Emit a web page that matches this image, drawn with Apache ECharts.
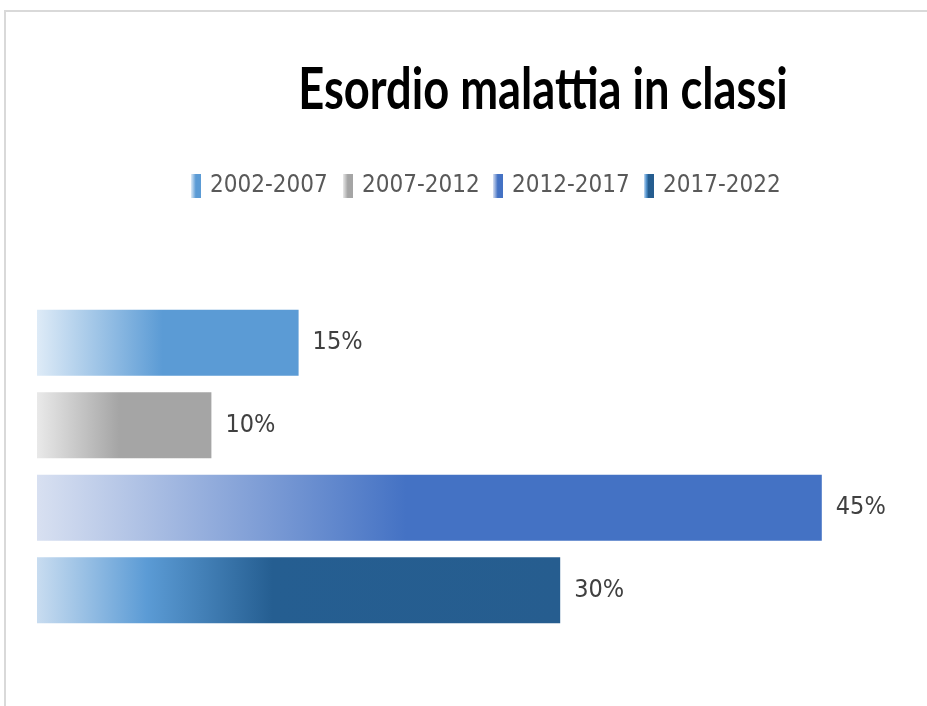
<!DOCTYPE html>
<html>
<head>
<meta charset="utf-8">
<title>Esordio malattia in classi</title>
<script src="https://cdn.jsdelivr.net/npm/echarts@6/dist/echarts.min.js"></script>
<style>
  html, body { margin: 0; padding: 0; background: #ffffff; }
  #chart { width: 927px; height: 706px; }
</style>
</head>
<body>
<div id="chart"></div>
<script>
// Onset of the disease, grouped by period
const categories = ['Esordio malattia'];
const periods = ['2002-2007', '2007-2012', '2012-2017', '2017-2022'];
const shares = [15, 10, 45, 30];
const axisMax = 50;

// Fill of each period: light tint on the left fading into the full colour
const fills = [
  [[0, '#deebf7'], [0.48, '#5b9bd5'], [1, '#5b9bd5']],
  [[0, '#e9e9e9'], [0.47, '#a5a5a5'], [1, '#a5a5a5']],
  [[0, '#d8e0f1'], [0.47, '#4472c4'], [1, '#4472c4']],
  [[0, '#c8dcf0'], [0.21, '#5b9bd5'], [0.45, '#255e91'], [1, '#265d8f']]
];
const legendLeft = [191, 343, 493, 644];

const TEXT_FONT = '"DejaVu Sans Condensed", "Liberation Sans", sans-serif';
const TITLE_FONT = 'Lato, "Liberation Sans", sans-serif';

function gradient(stops) {
  return new echarts.graphic.LinearGradient(0, 0, 1, 0,
    stops.map(s => ({ offset: s[0], color: s[1] })));
}

const chart = echarts.init(document.getElementById('chart'), null, { renderer: 'canvas' });

chart.setOption({
  backgroundColor: '#ffffff',
  animation: false,
  graphic: [
    {
      type: 'rect',
      shape: { x: 5, y: 11, width: 1200, height: 1000 },
      style: { fill: 'none', stroke: '#d9d9d9', lineWidth: 2 },
      silent: true
    },
    {
      // condensed heading, centred over the plot
      type: 'text',
      x: 543,
      y: 90,
      scaleX: 0.78,
      style: {
        text: 'Esordio malattia in classi',
        font: 'bold 58px ' + TITLE_FONT,
        fill: '#000000',
        textAlign: 'center',
        textVerticalAlign: 'middle'
      },
      silent: true
    }
  ],
  legend: periods.map((p, i) => ({
    data: [p],
    left: legendLeft[i],
    top: 174,
    padding: 0,
    itemWidth: 10,
    itemHeight: 24,
    icon: 'rect',
    selectedMode: false,
    textStyle: { color: '#595959', fontSize: 24, fontFamily: TEXT_FONT, padding: [0, 0, 0, 4] }
  })),
  grid: { left: 37, width: 872, top: 270, height: 393, containLabel: false },
  xAxis: {
    type: 'value',
    min: 0,
    max: axisMax,
    show: false
  },
  yAxis: {
    type: 'category',
    data: categories,
    show: false
  },
  series: periods.map((p, i) => ({
    name: p,
    type: 'bar',
    data: [shares[i]],
    barWidth: 66,
    barGap: '25%',
    itemStyle: { color: gradient(fills[i]) },
    label: {
      show: true,
      position: 'right',
      distance: 14,
      formatter: '{c}%',
      color: '#404040',
      fontSize: 25,
      fontFamily: TEXT_FONT
    }
  }))
});
</script>
</body>
</html>
